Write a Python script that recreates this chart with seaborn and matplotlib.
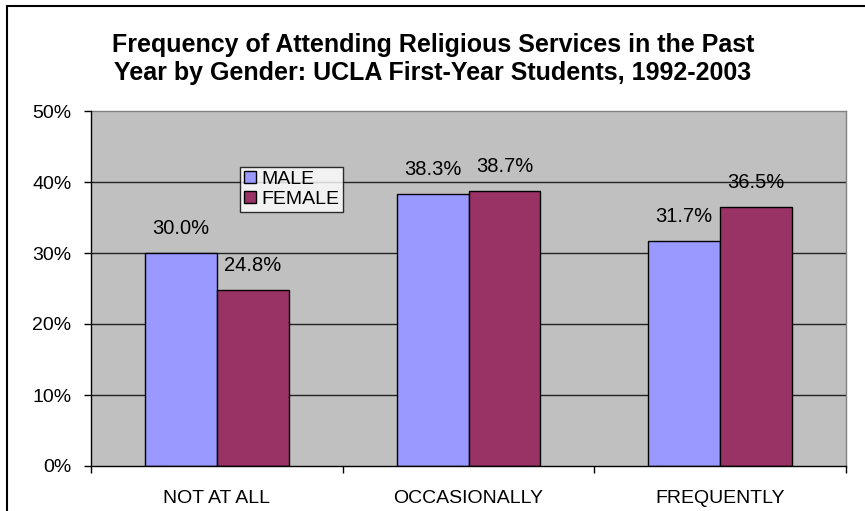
import matplotlib
matplotlib.use('Agg')
import matplotlib.pyplot as plt
from matplotlib.patches import Rectangle
from matplotlib.ticker import FuncFormatter, FixedLocator
import pandas as pd
import seaborn as sns

# Data
categories = ['NOT AT ALL', 'OCCASIONALLY', 'FREQUENTLY']
genders = ['MALE', 'FEMALE']
male_pct = [30.0, 38.3, 31.7]
female_pct = [24.8, 38.7, 36.5]

colors = {'MALE': '#9999FF', 'FEMALE': '#993366'}

df = pd.DataFrame({
    'category': categories * 2,
    'gender': ['MALE'] * 3 + ['FEMALE'] * 3,
    'pct': male_pct + female_pct,
})

sns.set_theme(style='white')
plt.rcParams['font.family'] = ['Liberation Sans', 'DejaVu Sans']
plt.rcParams['text.color'] = 'black'
plt.rcParams['xtick.color'] = 'black'
plt.rcParams['ytick.color'] = 'black'
plt.rcParams['xtick.labelcolor'] = 'black'
plt.rcParams['ytick.labelcolor'] = 'black'

fig = plt.figure(figsize=(8.65, 5.11), dpi=100)
ax = fig.add_axes([91 / 865, 1 - 466 / 511, (846 - 91) / 865, (466 - 111) / 511])
ax.set_facecolor('#C0C0C0')

sns.barplot(data=df, x='category', y='pct', hue='gender', order=categories,
            hue_order=genders, palette=colors, width=0.572, gap=0,
            edgecolor='black', linewidth=1, saturation=1, ax=ax, zorder=3)

# value labels above the bars
for cont, vals in zip(ax.containers, [male_pct, female_pct]):
    ax.bar_label(cont, labels=[f'{v:.1f}%' for v in vals], padding=11,
                 fontsize=14.5, color='black')

ax.set_ylim(0, 50)
ax.set_xlim(-0.5, 2.5)
ax.set_yticks([0, 10, 20, 30, 40, 50])
ax.yaxis.set_major_formatter(FuncFormatter(lambda v, p: f'{v:.0f}%'))
for y in [10, 20, 30, 40]:
    ax.axhline(y, color='#222222', linewidth=1, zorder=1)

ax.set_xlabel('')
ax.set_ylabel('')
ax.tick_params(axis='y', direction='out', length=5, width=1, color='black',
               labelsize=14, pad=9, left=True)
ax.tick_params(axis='x', which='major', length=0, labelsize=14, pad=17)
# Excel style: tick marks between categories
ax.xaxis.set_minor_locator(FixedLocator([-0.5, 0.5, 1.5, 2.5]))
ax.tick_params(axis='x', which='minor', direction='out', length=5, width=1,
               color='black', bottom=True)

for side in ['top', 'right']:
    ax.spines[side].set_color('#808080')
    ax.spines[side].set_linewidth(1)
for side in ['left', 'bottom']:
    ax.spines[side].set_color('black')
    ax.spines[side].set_linewidth(1)
    ax.spines[side].set_zorder(4)

handles, labels = ax.get_legend_handles_labels()
leg = ax.legend(handles, labels, loc='upper left',
                bbox_to_anchor=(240 / 865, 1 - 167 / 511),
                bbox_transform=fig.transFigure, borderaxespad=0,
                fontsize=14, frameon=True, fancybox=False, shadow=False,
                handlelength=0.6, handleheight=0.6, handletextpad=0.3,
                borderpad=0.2, labelspacing=0.15)
leg.get_frame().set_edgecolor('black')
leg.get_frame().set_linewidth(1)
leg.get_frame().set_facecolor('white')
leg.set_zorder(5)

fig.text(433 / 865, 1 - 59 / 511,
         'Frequency of Attending Religious Services in the Past\n'
         'Year by Gender: UCLA First-Year Students, 1992-2003',
         ha='center', va='center', fontsize=18, fontweight='bold',
         linespacing=1.25)

# outer chart border (cropped at right and bottom in the reference)
fig.patches.append(Rectangle((7 / 865, -0.1), 1.2, 1.1 - 6 / 511,
                             transform=fig.transFigure, fill=False,
                             edgecolor='black', linewidth=1.5))

fig.savefig('out.png', dpi=100)
